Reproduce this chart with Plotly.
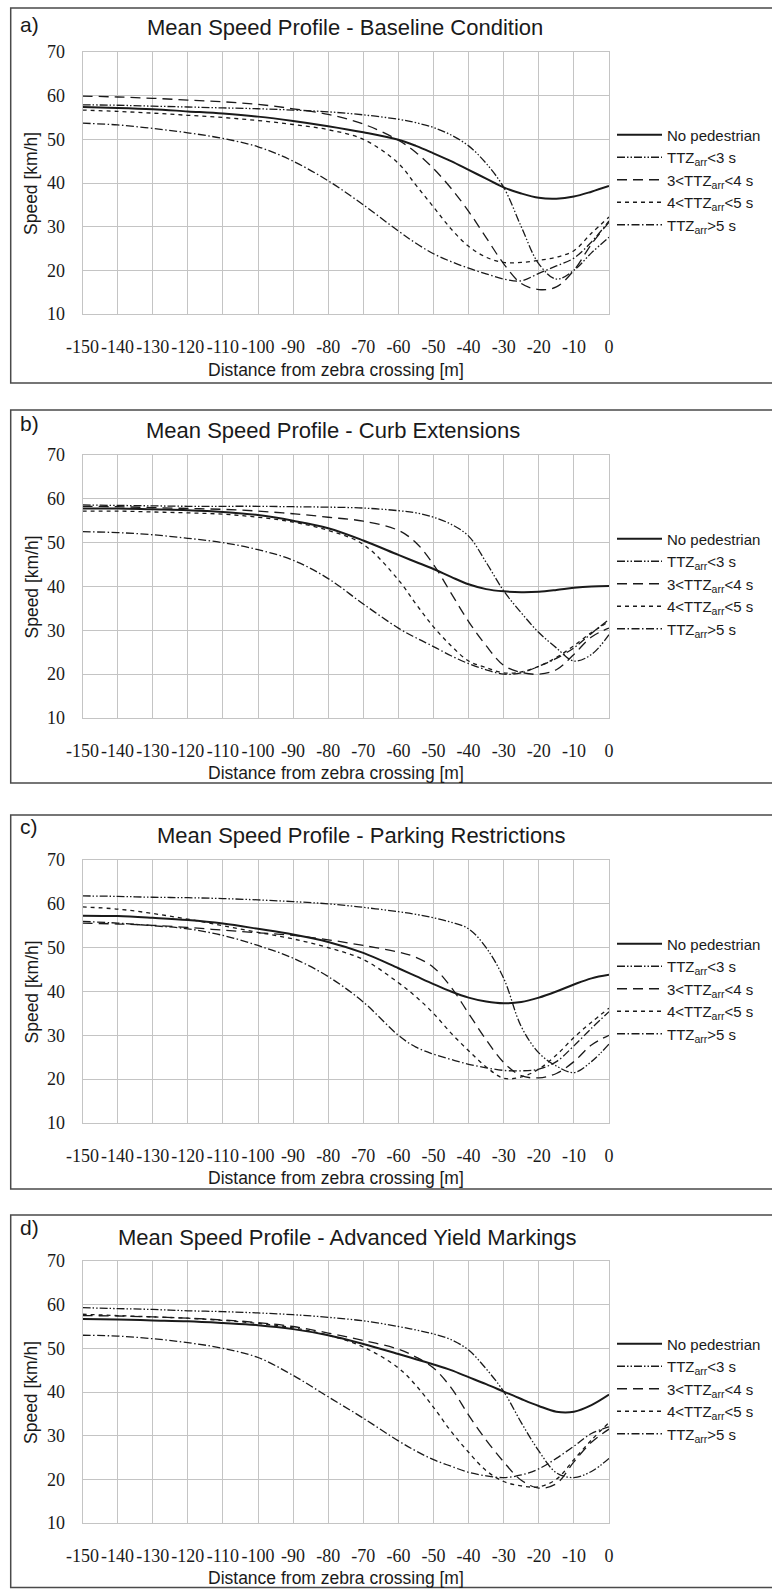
import plotly.graph_objects as go

W, H = 772, 1589

# ---------------- data ----------------
distance = [-150, -140, -130, -120, -110, -100, -90, -80, -70, -60,
            -55, -50, -45, -40, -35, -30, -25, -20, -15, -10, -5, 0]

series_names = ["No pedestrian", "TTZ<sub>arr</sub>&lt;3 s", "3&lt;TTZ<sub>arr</sub>&lt;4 s",
                "4&lt;TTZ<sub>arr</sub>&lt;5 s", "TTZ<sub>arr</sub>&gt;5 s"]

panel_titles = ["Mean Speed Profile - Baseline Condition",
                "Mean Speed Profile - Curb Extensions",
                "Mean Speed Profile - Parking Restrictions",
                "Mean Speed Profile - Advanced Yield Markings"]
panel_labels = ["a)", "b)", "c)", "d)"]

# a) Baseline
a_nop = [57.4, 57.2, 56.9, 56.4, 55.9, 55.2, 54.2, 53.0, 51.6, 49.9, 48.5, 46.8, 45.0, 43.0, 41.0, 39.0, 37.6, 36.6, 36.4, 36.9, 38.0, 39.3]
a_lt3 = [57.9, 57.8, 57.6, 57.4, 57.2, 57.0, 56.7, 56.3, 55.6, 54.6, 53.8, 52.7, 51.0, 48.5, 44.5, 39.0, 30.0, 21.5, 18.0, 20.0, 24.0, 27.6]
a_34 = [59.9, 59.7, 59.4, 59.0, 58.6, 58.0, 57.0, 55.7, 53.5, 49.8, 47.0, 43.3, 38.8, 33.5, 27.5, 21.5, 17.0, 15.6, 16.2, 20.0, 26.0, 31.0]
a_45 = [56.7, 56.4, 56.0, 55.5, 55.0, 54.3, 53.4, 52.2, 50.0, 44.5, 39.5, 34.5, 29.5, 25.5, 23.0, 21.8, 21.8, 22.3, 23.0, 24.5, 28.5, 32.2]
a_gt5 = [53.7, 53.3, 52.5, 51.5, 50.2, 48.3, 45.0, 40.5, 35.0, 29.0, 26.2, 23.8, 22.0, 20.5, 19.2, 18.0, 17.6, 19.3, 21.0, 22.8, 26.5, 31.3]

# b) Curb extensions
b_nop = [57.8, 57.8, 57.6, 57.4, 57.0, 56.3, 55.0, 53.3, 50.5, 47.2, 45.6, 44.0, 42.2, 40.5, 39.4, 38.9, 38.7, 38.8, 39.2, 39.7, 40.0, 40.1]
b_lt3 = [58.6, 58.5, 58.4, 58.3, 58.3, 58.3, 58.2, 58.1, 57.9, 57.3, 56.8, 55.8, 54.2, 51.5, 45.5, 39.0, 34.0, 29.5, 26.0, 23.0, 24.5, 29.0]
b_34 = [58.3, 58.2, 58.0, 57.8, 57.6, 57.2, 56.6, 55.8, 54.9, 52.8, 50.0, 45.0, 38.5, 32.0, 26.5, 22.0, 20.4, 20.0, 21.0, 24.5, 28.5, 30.5]
b_45 = [57.2, 57.2, 57.0, 56.8, 56.5, 55.8, 54.7, 52.8, 49.6, 41.5, 36.0, 30.8, 26.5, 23.0, 21.5, 20.3, 20.5, 21.8, 23.8, 26.5, 29.5, 32.0]
b_gt5 = [52.5, 52.3, 51.8, 51.0, 50.0, 48.4, 46.0, 41.8, 36.0, 30.5, 28.3, 26.3, 24.2, 22.4, 21.0, 20.0, 20.3, 21.8, 23.6, 26.0, 29.3, 32.5]

# c) Parking restrictions
c_nop = [57.3, 57.2, 56.8, 56.3, 55.5, 54.3, 53.0, 51.3, 48.8, 45.3, 43.5, 41.7, 40.0, 38.6, 37.7, 37.3, 37.6, 38.6, 40.0, 41.6, 43.0, 43.8]
c_lt3 = [61.8, 61.7, 61.5, 61.4, 61.2, 60.9, 60.5, 60.0, 59.2, 58.2, 57.6, 56.8, 55.8, 54.3, 50.0, 43.0, 32.0, 26.0, 23.0, 21.5, 24.0, 28.0]
c_34 = [55.6, 55.4, 55.1, 54.6, 54.0, 53.4, 52.8, 51.8, 50.5, 49.0, 47.8, 45.5, 41.0, 35.0, 29.0, 23.8, 20.8, 20.3, 21.3, 24.0, 27.8, 30.0]
c_45 = [59.3, 58.8, 57.8, 56.5, 55.0, 53.5, 52.0, 50.0, 47.3, 42.0, 38.8, 35.0, 30.5, 26.5, 22.8, 20.2, 20.5, 22.3, 25.5, 29.5, 33.0, 36.2]
c_gt5 = [56.0, 55.6, 55.0, 54.3, 52.8, 50.5, 47.6, 43.4, 37.6, 30.0, 27.3, 25.7, 24.5, 23.4, 22.6, 22.0, 21.9, 22.3, 24.0, 27.6, 31.6, 35.4]

# d) Advanced yield markings
d_nop = [56.7, 56.6, 56.4, 56.2, 55.8, 55.3, 54.4, 53.0, 51.0, 48.7, 47.5, 46.3, 45.0, 43.4, 41.8, 40.1, 38.4, 36.8, 35.5, 35.5, 37.0, 39.4]
d_lt3 = [59.3, 59.1, 58.9, 58.6, 58.4, 58.1, 57.7, 57.1, 56.3, 55.0, 54.2, 53.3, 52.0, 49.6, 45.3, 40.1, 33.0, 26.5, 21.5, 20.4, 21.8, 24.8]
d_34 = [57.5, 57.4, 57.2, 56.9, 56.5, 55.9, 55.0, 53.5, 51.8, 49.8, 48.0, 45.5, 41.0, 34.7, 29.0, 24.0, 19.8, 18.0, 19.0, 24.0, 28.5, 31.5]
d_45 = [57.8, 57.5, 57.2, 56.9, 56.4, 55.7, 54.7, 53.0, 50.3, 45.5, 41.5, 36.5, 31.0, 26.2, 22.0, 19.5, 18.5, 18.3, 20.0, 24.5, 29.0, 33.0]
d_gt5 = [53.0, 52.8, 52.2, 51.3, 50.0, 47.9, 43.8, 38.9, 34.0, 28.8, 26.5, 24.5, 23.0, 21.6, 20.8, 20.4, 21.0, 22.4, 24.8, 27.6, 30.5, 32.0]

panels = [[a_nop, a_lt3, a_34, a_45, a_gt5],
          [b_nop, b_lt3, b_34, b_45, b_gt5],
          [c_nop, c_lt3, c_34, c_45, c_gt5],
          [d_nop, d_lt3, d_34, d_45, d_gt5]]

x_ticks = list(range(-150, 1, 10))
x_ticktext = [str(v) for v in x_ticks]
y_ticks = [10, 20, 30, 40, 50, 60, 70]

# ---------------- style / layout ----------------
line_styles = [
    dict(dash="solid", width=2.0),
    dict(dash="8px,2px,1.5px,2px,1.5px,2px", width=1.3),
    dict(dash="10px,6px", width=1.3),
    dict(dash="4px,4px", width=1.3),
    dict(dash="8px,2.5px,1.5px,2.5px", width=1.3),
]
LINE_COLOR = "#1a1a1a"
GRID = "#c4c4c4"
SERIF = "Liberation Serif"
SANS = "Liberation Sans"

plot_left, plot_right = 82.5, 609
plot_tops = [52, 455, 860, 1261]
plot_bottoms = [314, 718, 1123, 1523]
box_tops = [8, 410, 815, 1215]
box_bottoms = [383, 783, 1189, 1587.5]
title_x = [345, 333, 361, 347]
title_y = [27, 430, 835, 1237]
label_y = [25, 423, 827, 1227]
xtitle_y = [370, 773, 1178, 1578]
legend_cy = [180, 584, 989, 1389]


def px(x):
    return x / W


def py(y):
    return 1 - y / H


fig = go.Figure()
annotations = []
shapes = []

for i, series in enumerate(panels):
    n = "" if i == 0 else str(i + 1)
    xa, ya = "x" + n, "y" + n
    leg = "legend" + n
    for j, vals in enumerate(series):
        fig.add_trace(go.Scatter(
            x=distance, y=vals, mode="lines", name=series_names[j],
            line=dict(color=LINE_COLOR, shape="spline", smoothing=1.0, **line_styles[j]),
            xaxis=xa, yaxis=ya, legend=leg, showlegend=True,
        ))
    fig.layout["xaxis" + n] = go.layout.XAxis(
        domain=[px(plot_left), px(plot_right)], anchor=ya, range=[-150, 0],
        tickmode="array", tickvals=x_ticks, ticktext=x_ticktext, tickangle=0,
        showgrid=True, gridcolor=GRID, gridwidth=1, zeroline=False,
        showline=True, linecolor=GRID, linewidth=1, mirror=True,
        ticks="", ticklabelstandoff=16, automargin=False,
        tickfont=go.layout.xaxis.Tickfont(family=SERIF, size=18, color="#1a1a1a"),
    )
    fig.layout["yaxis" + n] = go.layout.YAxis(
        domain=[py(plot_bottoms[i]), py(plot_tops[i])], anchor=xa, range=[10, 70],
        tickmode="array", tickvals=y_ticks,
        showgrid=True, gridcolor=GRID, gridwidth=1, zeroline=False,
        showline=True, linecolor=GRID, linewidth=1, mirror=True,
        ticks="", ticklabelstandoff=13, automargin=False,
        tickfont=go.layout.yaxis.Tickfont(family=SERIF, size=18, color="#1a1a1a"),
    )
    fig.layout[leg] = go.layout.Legend(
        x=px(612), y=py(legend_cy[i]), xanchor="left", yanchor="middle",
        xref="paper", yref="paper",
        bgcolor="rgba(0,0,0,0)", borderwidth=0, itemwidth=45,
        font=dict(family=SANS, size=15, color="#1a1a1a"),
        tracegroupgap=0,
    )
    # panel frame
    shapes.append(dict(type="rect", xref="paper", yref="paper",
                       x0=px(10.7), x1=px(780), y0=py(box_bottoms[i]), y1=py(box_tops[i]),
                       line=dict(color="#4a4a4a", width=1.5), fillcolor="rgba(0,0,0,0)", layer="below"))
    annotations.append(dict(text=panel_labels[i], xref="paper", yref="paper",
                            x=px(18), y=py(label_y[i]), xanchor="left", yanchor="middle",
                            showarrow=False, font=dict(family=SANS, size=21, color="#1a1a1a")))
    annotations.append(dict(text=panel_titles[i], xref="paper", yref="paper",
                            x=px(title_x[i]), y=py(title_y[i]), xanchor="center", yanchor="middle",
                            showarrow=False, font=dict(family=SANS, size=22, color="#1a1a1a")))
    annotations.append(dict(text="Distance from zebra crossing [m]", xref="paper", yref="paper",
                            x=px(336), y=py(xtitle_y[i]), xanchor="center", yanchor="middle",
                            showarrow=False, font=dict(family=SANS, size=17.5, color="#1a1a1a")))
    annotations.append(dict(text="Speed [km/h]", xref="paper", yref="paper",
                            x=px(31), y=py((plot_tops[i] + plot_bottoms[i]) / 2), xanchor="center",
                            yanchor="middle", textangle=-90,
                            showarrow=False, font=dict(family=SANS, size=17.5, color="#1a1a1a")))

fig.update_layout(
    width=W, height=H, autosize=False,
    margin=dict(l=0, r=0, t=0, b=0),
    font=dict(family=SERIF, size=18, color="#1a1a1a"),
    paper_bgcolor="white", plot_bgcolor="white",
    annotations=annotations, shapes=shapes,
)

fig.write_html("out.html")
